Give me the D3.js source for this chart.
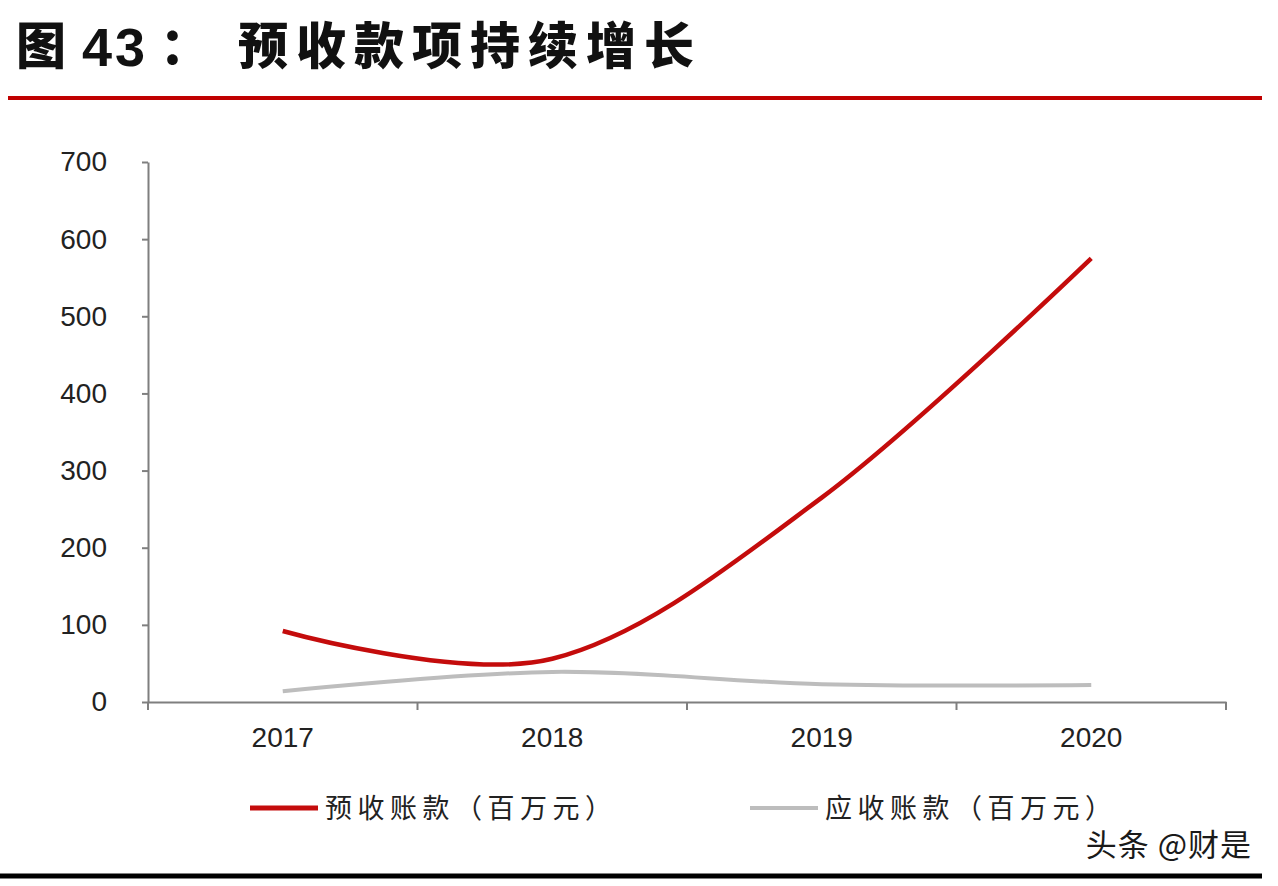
<!DOCTYPE html>
<html>
<head>
<meta charset="utf-8">
<script src="https://cdn.jsdelivr.net/npm/d3@7"></script>
<style>
  html, body { margin: 0; padding: 0; background: #ffffff; }
  #chart { width: 1278px; height: 886px; }
</style>
</head>
<body>
<div id="chart"></div>
<script>
const width = 1278;
const height = 886;

// data
const years = ["2017", "2018", "2019", "2020"];
const advanceReceipts = [92, 56, 265, 575]; // 预收账款（百万元）
const receivables = [14, 39, 23, 22]; // 应收账款（百万元）
const yTicks = [0, 100, 200, 300, 400, 500, 600, 700];
const seriesNames = ["预收账款（百万元）", "应收账款（百万元）"];
const seriesColors = ["#c40c0c", "#bdbdbd"];

const cjk = "'Noto Sans CJK SC', 'Noto Sans', sans-serif";
const numFont = "'Liberation Sans', 'DejaVu Sans', sans-serif";

const svg = d3
  .select("#chart")
  .append("svg")
  .attr("width", width)
  .attr("height", height);

// title
const title = svg
  .append("g")
  .style("font-family", cjk)
  .style("font-weight", 900)
  .style("fill", "#111");
title.append("text").attr("x", 16).attr("y", 64).style("font-size", "50px").text("图");
title
  .append("text")
  .attr("x", 82)
  .attr("y", 66)
  .style("font-family", numFont)
  .style("font-weight", 700)
  .style("font-size", "54px")
  .style("letter-spacing", "3px")
  .text("43");
title.append("text").attr("x", 160).attr("y", 64).style("font-size", "50px").text("：");
title
  .append("text")
  .attr("x", 238)
  .attr("y", 64)
  .style("font-size", "50px")
  .style("letter-spacing", "8px")
  .text("预收款项持续增长");

// red rule under title
svg
  .append("line")
  .attr("x1", 8)
  .attr("x2", 1262)
  .attr("y1", 98)
  .attr("y2", 98)
  .style("stroke", "#c00000")
  .style("stroke-width", 4);

// bottom black rule
svg
  .append("line")
  .attr("x1", 0)
  .attr("x2", 1262)
  .attr("y1", 876)
  .attr("y2", 876)
  .style("stroke", "#000")
  .style("stroke-width", 5);

// scales
const x = d3.scaleBand().domain(years).range([148, 1226]).padding(0);
const y = d3.scaleLinear().domain([0, 700]).range([702, 162]);
const cx = d => x(d) + x.bandwidth() / 2;

// y axis
const yAxis = svg
  .append("g")
  .attr("transform", "translate(148,0)")
  .call(d3.axisLeft(y).tickValues(yTicks).tickSize(6).tickPadding(35).tickSizeOuter(0));
yAxis.select(".domain").style("stroke", "#7f7f7f").style("stroke-width", 2);
yAxis.selectAll(".tick line").style("stroke", "#7f7f7f").style("stroke-width", 2);
yAxis
  .selectAll(".tick text")
  .style("font-family", numFont)
  .style("font-size", "28px")
  .style("fill", "#222");

// x axis: labels at band centres, ticks at band edges
const xAxis = svg
  .append("g")
  .attr("transform", "translate(0,702)")
  .call(d3.axisBottom(x).tickSize(0).tickPadding(25).tickSizeOuter(0));
xAxis.select(".domain").style("stroke", "#7f7f7f").style("stroke-width", 2);
xAxis
  .selectAll(".tick text")
  .style("font-family", numFont)
  .style("font-size", "28px")
  .style("fill", "#222");
const edges = years.map(d => x(d)).concat([x(years[years.length - 1]) + x.bandwidth()]);
xAxis
  .selectAll(".edge")
  .data(edges)
  .enter()
  .append("line")
  .attr("class", "edge")
  .attr("x1", d => d)
  .attr("x2", d => d)
  .attr("y1", 0)
  .attr("y2", 8)
  .style("stroke", "#7f7f7f")
  .style("stroke-width", 2);

// lines
const line = d3
  .line()
  .x((d, i) => cx(years[i]))
  .y(d => y(d))
  .curve(d3.curveCardinal.tension(0));

svg
  .append("path")
  .datum(receivables)
  .attr("d", line)
  .style("fill", "none")
  .style("stroke", seriesColors[1])
  .style("stroke-width", 4);

svg
  .append("path")
  .datum(advanceReceipts)
  .attr("d", line)
  .style("fill", "none")
  .style("stroke", seriesColors[0])
  .style("stroke-width", 4.5);

// legend
const legendX = [250, 750];
seriesNames.forEach((name, i) => {
  const g = svg.append("g").attr("transform", `translate(${legendX[i]},808)`);
  g.append("line")
    .attr("x1", 0)
    .attr("x2", 68)
    .style("stroke", seriesColors[i])
    .style("stroke-width", i === 0 ? 5 : 4);
  g.append("text")
    .attr("x", 75)
    .attr("y", 10)
    .style("font-family", cjk)
    .style("font-size", "27px")
    .style("letter-spacing", "5.5px")
    .style("fill", "#222")
    .text(name);
});

// watermark
svg
  .append("text")
  .attr("x", 1252)
  .attr("y", 856)
  .attr("text-anchor", "end")
  .style("font-family", cjk)
  .style("font-size", "31px")
  .style("letter-spacing", "1px")
  .style("fill", "#1a1a1a")
  .text("头条 @财是");
</script>
</body>
</html>
